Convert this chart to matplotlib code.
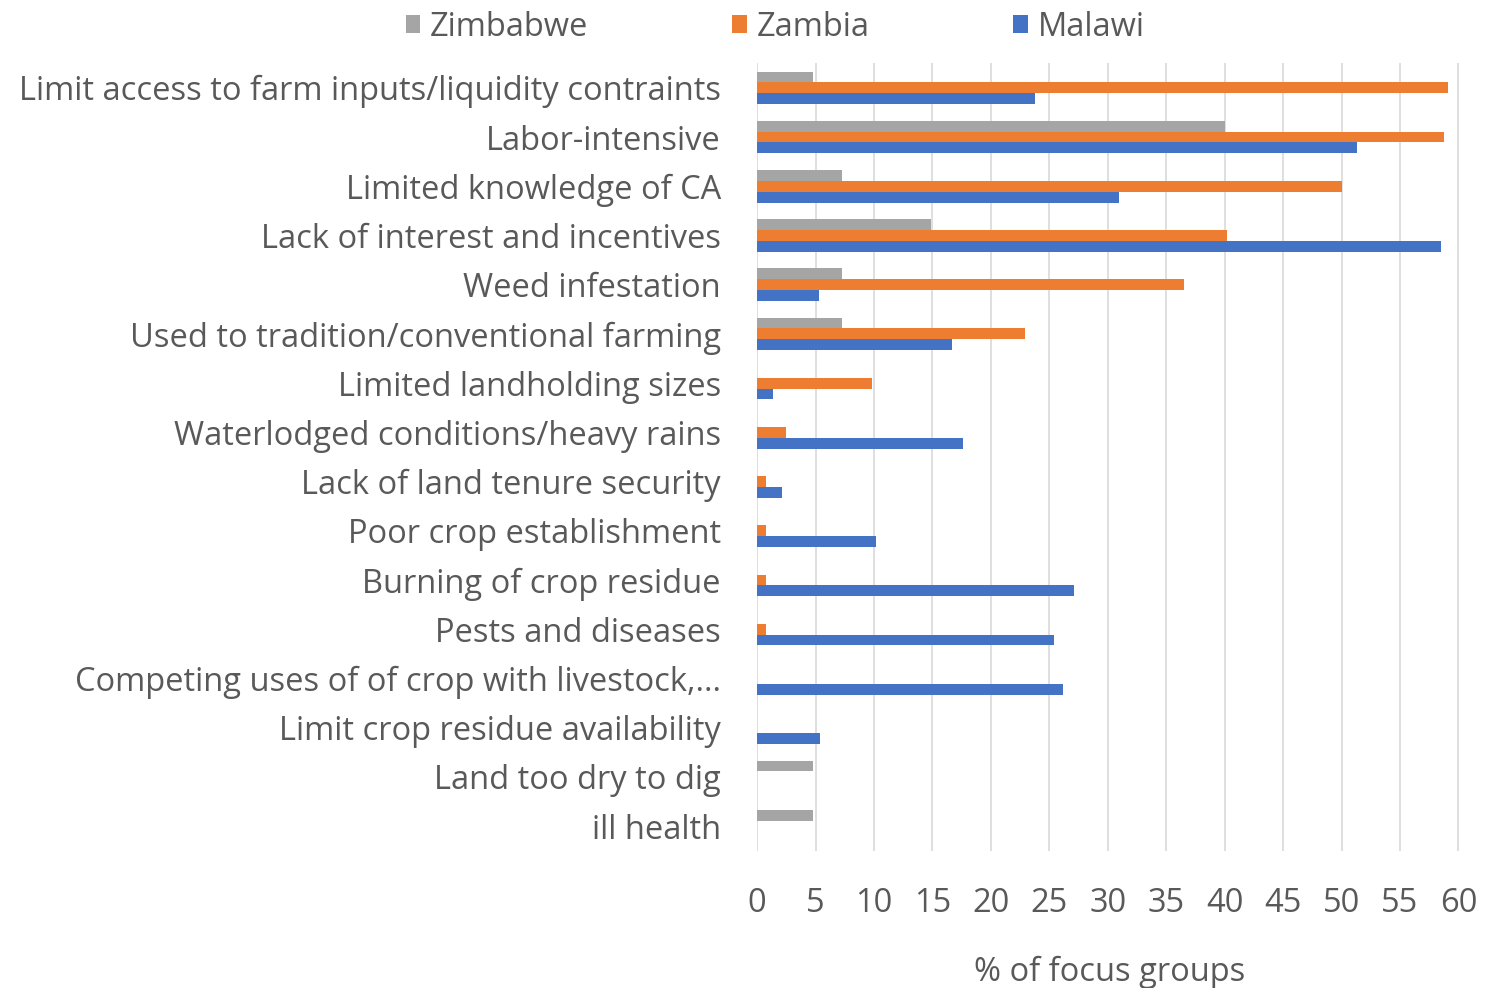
import numpy as np
import matplotlib.pyplot as plt

plt.rcParams['font.family'] = ['Open Sans', 'DejaVu Sans']

categories = [
    "Limit access to farm inputs/liquidity contraints",
    "Labor-intensive",
    "Limited knowledge of CA",
    "Lack of interest and incentives",
    "Weed infestation",
    "Used to tradition/conventional farming",
    "Limited landholding sizes",
    "Waterlodged conditions/heavy rains",
    "Lack of land tenure security",
    "Poor crop establishment",
    "Burning of crop residue",
    "Pests and diseases",
    "Competing uses of of crop with livestock,...",
    "Limit crop residue availability",
    "Land too dry to dig",
    "ill health",
]

zimbabwe = [4.8, 40.0, 7.3, 14.9, 7.3, 7.3, 0, 0, 0, 0, 0, 0, 0, 0, 4.8, 4.8]
zambia = [59.1, 58.8, 50.0, 40.2, 36.5, 22.9, 9.8, 2.5, 0.8, 0.8, 0.8, 0.8, 0, 0, 0, 0]
malawi = [23.8, 51.3, 31.0, 58.5, 5.3, 16.7, 1.4, 17.6, 2.1, 10.2, 27.1, 25.4, 26.2, 5.4, 0, 0]

series = ["Zimbabwe", "Zambia", "Malawi"]
colors = ["#A5A5A5", "#ED7D31", "#4472C4"]
text_col = "#595959"
fs = 23.5

fig = plt.figure(figsize=(14.85, 9.88), dpi=100)
ax = fig.add_axes([0.5098, 0.139, 0.4747, 0.797])

y = np.arange(len(categories))
h = 0.22
for k, (vals, name, c) in enumerate(zip([zimbabwe, zambia, malawi], series, colors)):
    ax.barh(y + (k - 1) * h, vals, height=h, color=c, label=name, zorder=3)

ax.set_ylim(len(categories) - 0.5, -0.5)
ax.set_xlim(0, 60.3)
ax.set_xticks(np.arange(0, 61, 5))
ax.set_yticks(y)
ax.set_yticklabels(categories)
ax.tick_params(axis='y', length=0, pad=26, labelsize=fs, labelcolor=text_col)
ax.tick_params(axis='x', length=0, pad=26, labelsize=fs, labelcolor=text_col)
ax.xaxis.grid(True, color="#D9D9D9", linewidth=1.2, zorder=0)
for s in ax.spines.values():
    s.set_visible(False)

ax.set_xlabel("% of focus groups", fontsize=fs, color=text_col, labelpad=26)

fig.legend(loc='upper center', bbox_to_anchor=(0.522, 1.019), ncol=3, frameon=False,
           fontsize=fs, labelcolor=text_col, handlelength=0.45, handleheight=0.45,
           handletextpad=0.3, columnspacing=4.4)

fig.savefig("out.png", dpi=100)
